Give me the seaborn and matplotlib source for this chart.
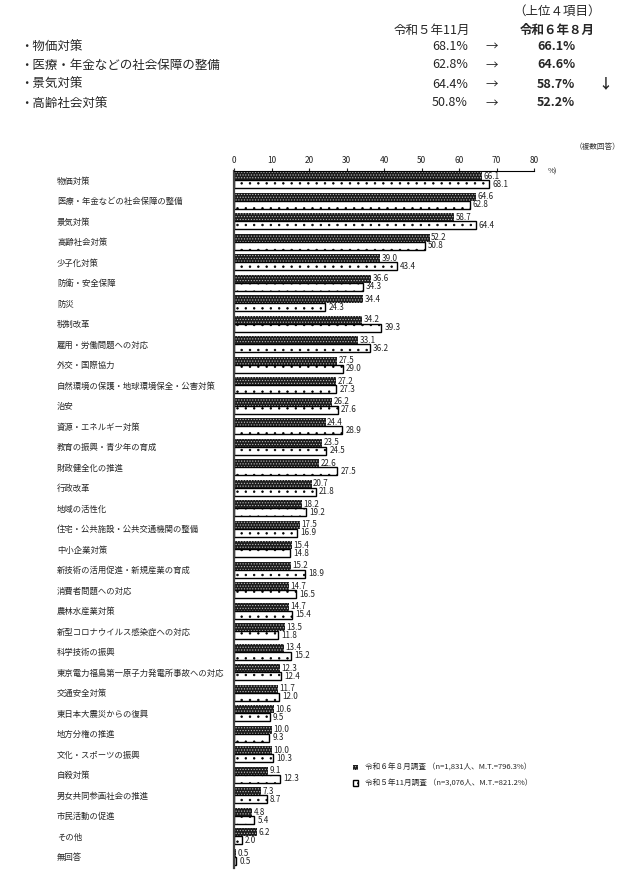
import matplotlib
matplotlib.use('Agg')
import matplotlib.pyplot as plt
import seaborn as sns
import pandas as pd

# --- data ---
categories = [
    '物価対策', '医療・年金などの社会保障の整備', '景気対策', '高齢社会対策',
    '少子化対策', '防衛・安全保障', '防災', '税制改革', '雇用・労働問題への対応',
    '外交・国際協力', '自然環境の保護・地球環境保全・公害対策', '治安',
    '資源・エネルギー対策', '教育の振興・青少年の育成', '財政健全化の推進',
    '行政改革', '地域の活性化', '住宅・公共施設・公共交通機関の整備',
    '中小企業対策', '新技術の活用促進・新規産業の育成', '消費者問題への対応',
    '農林水産業対策', '新型コロナウイルス感染症への対応', '科学技術の振興',
    '東京電力福島第一原子力発電所事故への対応', '交通安全対策',
    '東日本大震災からの復興', '地方分権の推進', '文化・スポーツの振興',
    '自殺対策', '男女共同参画社会の推進', '市民活動の促進', 'その他', '無回答',
]
aug_2024 = [66.1, 64.6, 58.7, 52.2, 39.0, 36.6, 34.4, 34.2, 33.1, 27.5,
            27.2, 26.2, 24.4, 23.5, 22.6, 20.7, 18.2, 17.5, 15.4, 15.2,
            14.7, 14.7, 13.5, 13.4, 12.3, 11.7, 10.6, 10.0, 10.0, 9.1,
            7.3, 4.8, 6.2, 0.5]
nov_2023 = [68.1, 62.8, 64.4, 50.8, 43.4, 34.3, 24.3, 39.3, 36.2, 29.0,
            27.3, 27.6, 28.9, 24.5, 27.5, 21.8, 19.2, 16.9, 14.8, 18.9,
            16.5, 15.4, 11.8, 15.2, 12.4, 12.0, 9.5, 9.3, 10.3, 12.3,
            8.7, 5.4, 2.0, 0.5]
series = ['令和６年８月調査 （n=1,831人、M.T.=796.3%）',
          '令和５年11月調査 （n=3,076人、M.T.=821.2%）']

top_items = ['物価対策', '医療・年金などの社会保障の整備', '景気対策', '高齢社会対策']
top_prev = [68.1, 62.8, 64.4, 50.8]
top_curr = [66.1, 64.6, 58.7, 52.2]
top_marks = ['', '', '↓', '']

x_ticks = [0, 10, 20, 30, 40, 50, 60, 70, 80]

# --- table for seaborn ---
df = pd.DataFrame({
    'category': categories * 2,
    'value': aug_2024 + nov_2023,
    'series': [series[0]] * len(categories) + [series[1]] * len(categories),
})

sns.set_theme(style='white')
plt.rcParams['font.family'] = ['Noto Sans CJK JP', 'DejaVu Sans']
plt.rcParams['hatch.linewidth'] = 0.5

W, H = 635, 873
fig = plt.figure(figsize=(W / 100, H / 100), dpi=100)
ax = fig.add_axes([234 / W, 1 - 868 / H, 300 / W, (868 - 171) / H])

sns.barplot(data=df, x='value', y='category', hue='series', orient='h',
            width=0.78, saturation=1, legend=False, ax=ax)

# dark hatched bars (this survey) and white dotted bars (previous survey)
for p in ax.containers[0]:
    p.set_facecolor('#1c1c1c')
    p.set_edgecolor('#bdbdbd')
    p.set_linewidth(0)
    p.set_hatch('......')
for p in ax.containers[1]:
    p.set_facecolor('white')
    p.set_edgecolor('black')
    p.set_linewidth(1.0)
    p.set_hatch('..')

# value labels
for i, (a, b) in enumerate(zip(aug_2024, nov_2023)):
    ax.text(a + 0.4, i - 0.19, f'{a:.1f}', va='center', ha='left',
            fontsize=5.8, color='#222222')
    ax.text(b + 0.9, i + 0.2, f'{b:.1f}', va='center', ha='left',
            fontsize=5.8, color='#222222')

ax.set_xlim(0, 80)
ax.set_ylim(len(categories) - 0.46, -0.44)
ax.set_xticks(x_ticks)
ax.xaxis.tick_top()
ax.tick_params(axis='x', labelsize=6, length=2.5, width=0.8, pad=2,
               direction='out', colors='#222222')
ax.tick_params(axis='y', length=0, labelsize=6, pad=127.4)
for lbl in ax.get_yticklabels():
    lbl.set_horizontalalignment('left')
ax.set_xlabel('')
ax.set_ylabel('')
for side in ['right', 'bottom']:
    ax.spines[side].set_visible(False)
ax.spines['top'].set_color('black')
ax.spines['top'].set_linewidth(0.8)
ax.spines['left'].set_color('#444444')
ax.spines['left'].set_linewidth(1.6)

# legend
ax.legend(handles=[ax.containers[0], ax.containers[1]], labels=series,
          loc='upper left', bbox_to_anchor=(346 / W, 1 - 757 / H),
          bbox_transform=fig.transFigure, frameon=False, fontsize=5.5,
          handlelength=0.7, handleheight=0.7, handletextpad=0.9,
          labelspacing=1.0)

# annotations around the axis
fig.text(548 / W, 1 - 172 / H, '%)', fontsize=5.5, va='center', ha='left')
fig.text(620 / W, 1 - 147 / H, '（複数回答）', fontsize=5.5, va='center',
         ha='right', color='#333333')

# top summary block
fig.text(557 / W, 1 - 11 / H, '（上位４項目）', fontsize=9, ha='center', va='center')
fig.text(470 / W, 1 - 30 / H, '令和５年11月', fontsize=9, ha='right', va='center')
fig.text(557 / W, 1 - 30 / H, '令和６年８月', fontsize=9, ha='center',
         va='center', fontweight='bold')
for k, (item, prev, curr, mark) in enumerate(zip(top_items, top_prev, top_curr, top_marks)):
    y = 1 - (46 + 19 * k) / H
    fig.text(20 / W, y, '・' + item, fontsize=9, ha='left', va='center')
    fig.text(468 / W, y, f'{prev:.1f}%', fontsize=9, ha='right', va='center')
    fig.text(492 / W, y, '→', fontsize=9, ha='center', va='center')
    fig.text(556 / W, y, f'{curr:.1f}%', fontsize=9, ha='center', va='center',
             fontweight='bold')
    if mark:
        fig.text(605 / W, y, mark, fontsize=10, ha='center', va='center',
                 fontweight='bold')

fig.savefig('out.png', dpi=100, facecolor='white')
